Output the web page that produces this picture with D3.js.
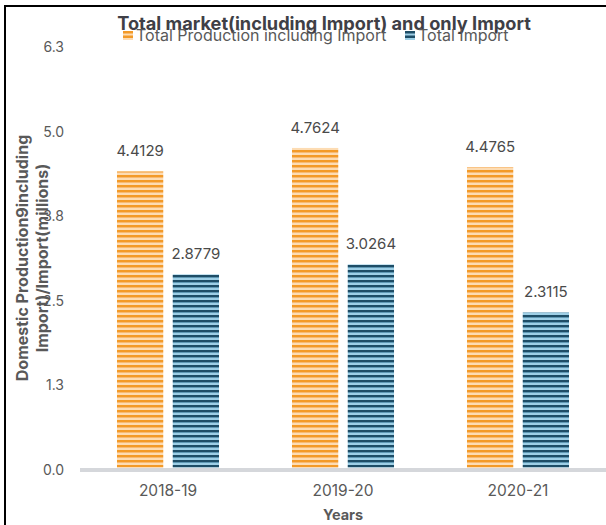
<!DOCTYPE html>
<html>
<head>
<meta charset="utf-8">
<script src="https://cdn.jsdelivr.net/npm/d3@7"></script>
<style>
html,body{margin:0;padding:0;background:#fff;}
svg{display:block;font-family:"Inter","Lato",sans-serif;}
</style>
</head>
<body>
<svg id="chart" width="606" height="525"></svg>
<script>
const categories = ["2018-19", "2019-20", "2020-21"];
const seriesNames = ["Total Production including Import", "Total Import"];
const productionValues = [4.4129, 4.7624, 4.4765];
const importValues = [2.8779, 3.0264, 2.3115];
const yTickValues = [0, 1.26, 2.52, 3.78, 5.04, 6.3];
const titleText = "Total market(including Import) and only Import";
const xTitle = "Years";
const yTitleLines = ["Domestic Production9including", "Import)/Import(millions)"];

const svg = d3.select("#chart");
const W = 606, H = 525;

const defs = svg.append("defs");
function stripe(id, c1, c2, c3) {
  const p = defs.append("pattern").attr("id", id).attr("patternUnits", "userSpaceOnUse")
    .attr("width", 10).attr("height", 5);
  p.append("rect").attr("x", 0).attr("y", 0).attr("width", 10).attr("height", 5).attr("fill", c3);
  p.append("rect").attr("x", 0).attr("y", 0).attr("width", 10).attr("height", 2).attr("fill", c1);
  p.append("rect").attr("x", 0).attr("y", 2).attr("width", 10).attr("height", 1).attr("fill", c2);
}
stripe("pOrange", "#F39A28", "#F8BA72", "#FDDCB3");
stripe("pBlue", "#1E4D66", "#5F98B4", "#9ECFE6");
const fills = ["url(#pOrange)", "url(#pBlue)"];
const legendColors = [["#F39A28", "#FDDCB3"], ["#1E4D66", "#9ECFE6"]];

svg.append("line").attr("x1", 5).attr("x2", 5).attr("y1", 5).attr("y2", H).attr("stroke", "#000").attr("stroke-width", 2);
svg.append("line").attr("x1", 4).attr("x2", W).attr("y1", 6).attr("y2", 6).attr("stroke", "#000").attr("stroke-width", 2);

const x0 = d3.scaleBand().domain(categories).range([80.5, 605.5]).paddingInner(0.417).paddingOuter(0.2085);
const x1 = d3.scaleBand().domain(seriesNames).range([0, x0.bandwidth()]).paddingInner(0.17);
const y = d3.scaleLinear().domain([0, 6.3]).range([467.5, 44.8]);

const data = categories.map((c, i) => ({cat: c, vals: [productionValues[i], importValues[i]]}));

const g = svg.append("g");
const groups = g.selectAll("g.grp").data(data).join("g").attr("class", "grp")
  .attr("transform", d => `translate(${x0(d.cat)},0)`);
groups.selectAll("rect").data(d => d.vals.map((v, j) => ({v, s: seriesNames[j], j})))
  .join("rect")
  .attr("x", d => x1(d.s)).attr("width", x1.bandwidth())
  .attr("y", d => y(d.v)).attr("height", d => y(0) - y(d.v))
  .attr("fill", d => fills[d.j]);
groups.selectAll("text.lbl").data(d => d.vals.map((v, j) => ({v, s: seriesNames[j], j})))
  .join("text").attr("class", "lbl")
  .attr("x", d => x1(d.s) + x1.bandwidth() / 2)
  .attr("y", d => y(d.v) - 15)
  .attr("text-anchor", "middle")
  .attr("font-size", 15).attr("fill", "#4a4a4a")
  .text(d => d.v.toFixed(4));

svg.append("line").attr("x1", 80).attr("x2", W).attr("y1", y(0) + 2.5).attr("y2", y(0) + 2.5)
  .attr("stroke", "#D5D7DB").attr("stroke-width", 4);

const yAxis = d3.axisLeft(y).tickValues(yTickValues).tickFormat(d3.format(".1f")).tickSize(0).tickPadding(0);
const ya = svg.append("g").attr("transform", "translate(64,2.5)").call(yAxis);
ya.select(".domain").remove();
ya.selectAll("text").attr("font-size", 14).attr("fill", "#595959").attr("font-family", "Inter, Lato, sans-serif");

const xAxis = d3.axisBottom(x0).tickSize(0).tickPadding(0);
const xa = svg.append("g").attr("transform", "translate(0,485)").call(xAxis);
xa.select(".domain").remove();
xa.selectAll("text").attr("font-size", 15.5).attr("fill", "#595959").attr("font-family", "Inter, Lato, sans-serif");

svg.append("text").attr("x", 343).attr("y", 520).attr("text-anchor", "middle")
  .attr("font-size", 14.5).attr("font-weight", "bold").attr("fill", "#595959").text(xTitle);

const yt = svg.append("text").attr("transform", "translate(28,258) rotate(-90)")
  .attr("text-anchor", "middle").attr("font-size", 16).attr("font-weight", "bold").attr("fill", "#595959");
yTitleLines.forEach((t, i) => yt.append("tspan").attr("x", 0).attr("dy", i === 0 ? 0 : 20).text(t));

svg.append("text").attr("x", 324).attr("y", 30).attr("text-anchor", "middle")
  .attr("font-size", 18.2).attr("font-weight", "bold").attr("fill", "#3f3f46").text(titleText);

const legendX = [123, 405];
const lg = svg.append("g");
seriesNames.forEach((s, i) => {
  const gx = legendX[i];
  lg.append("rect").attr("x", gx).attr("y", 31).attr("width", 10).attr("height", 9).attr("fill", legendColors[i][1]);
  lg.append("rect").attr("x", gx).attr("y", 31).attr("width", 10).attr("height", 2.5).attr("fill", legendColors[i][0]);
  lg.append("rect").attr("x", gx).attr("y", 35.5).attr("width", 10).attr("height", 2.5).attr("fill", legendColors[i][0]);
  lg.append("text").attr("x", gx + 13).attr("y", 41).attr("font-size", 16).attr("fill", "#595959").text(s);
});
</script>
</body>
</html>
